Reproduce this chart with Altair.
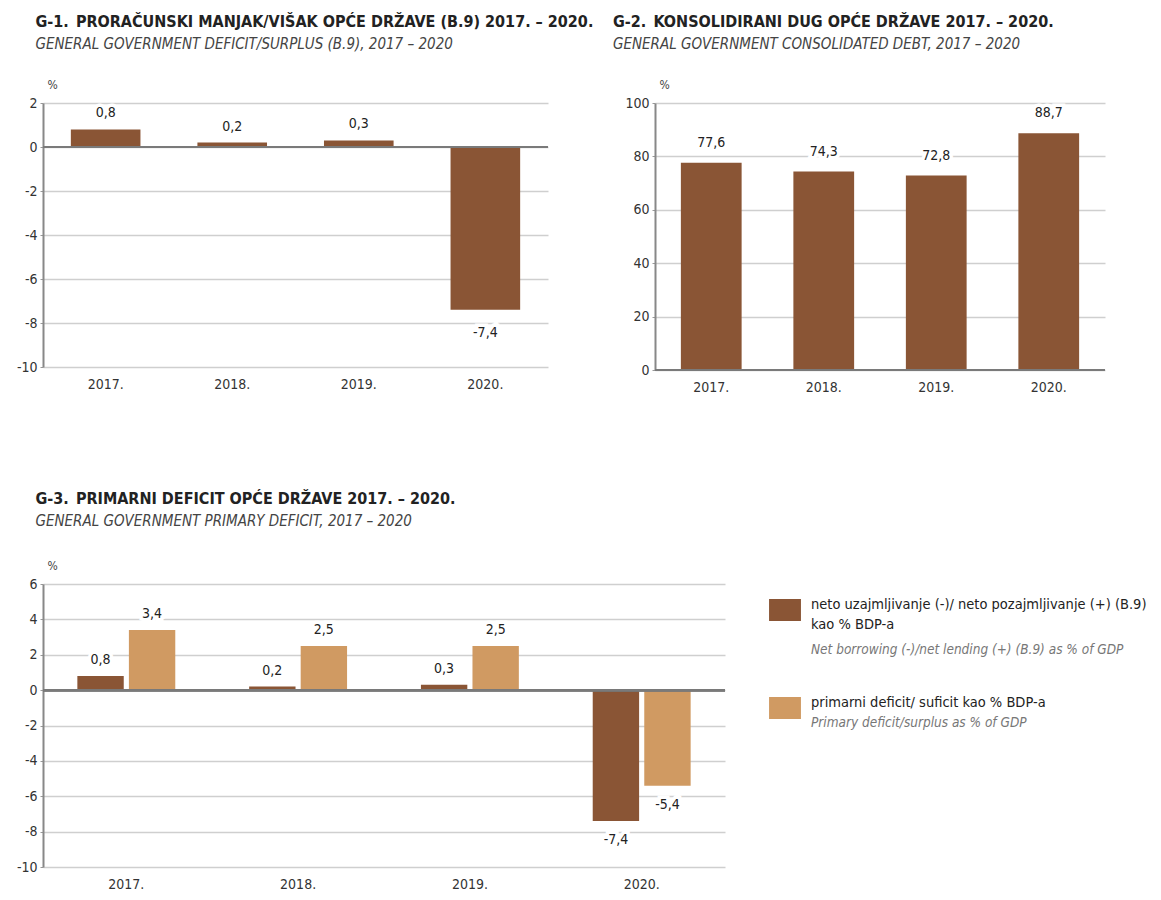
import altair as alt
import pandas as pd

# ---------------- data ----------------
years = ["2017.", "2018.", "2019.", "2020."]
deficit = [0.8, 0.2, 0.3, -7.4]          # G-1 and dark series of G-3
debt = [77.6, 74.3, 72.8, 88.7]          # G-2
primary = [3.4, 2.5, 2.5, -5.4]          # light series of G-3

series_key = ["B9", "primarni"]
series_hr = ["neto uzajmljivanje (-)/ neto pozajmljivanje (+) (B.9)\nkao % BDP-a",
             "primarni deficit/ suficit kao % BDP-a"]
series_en = ["Net borrowing (-)/net lending (+) (B.9) as % of GDP",
             "Primary deficit/surplus as % of GDP"]

t1 = "G-1.\u2002PRORAČUNSKI MANJAK/VIŠAK OPĆE DRŽAVE (B.9) 2017. – 2020."
s1 = "GENERAL GOVERNMENT DEFICIT/SURPLUS (B.9), 2017 – 2020"
t2 = "G-2.\u2002KONSOLIDIRANI DUG OPĆE DRŽAVE 2017. – 2020."
s2 = "GENERAL GOVERNMENT CONSOLIDATED DEBT, 2017 – 2020"
t3 = "G-3.\u2002PRIMARNI DEFICIT OPĆE DRŽAVE 2017. – 2020."
s3 = "GENERAL GOVERNMENT PRIMARY DEFICIT, 2017 – 2020"

DARK = "#8a5535"
LIGHT = "#d09a62"
colors = [DARK, LIGHT]
FONT = "Liberation Sans Narrow, DejaVu Sans Condensed, Roboto, sans-serif"
INDENT = "\u2003\u2003"
LABEL = "replace(toString(datum.v), '.', ',')"


def title(t, s, dx=19, offset=26):
    return alt.TitleParams(
        text=t, subtitle=INDENT + s, anchor="start", frame="bounds", dx=dx,
        font=FONT, fontSize=16, fontWeight="bold", color="#222",
        subtitleFont=FONT, subtitleFontSize=15, subtitleFontStyle="italic",
        subtitleColor="#444", subtitlePadding=7, offset=offset,
    )


def yaxis(vals):
    return alt.Axis(
        values=vals, tickCount=len(vals), title="%", titleAngle=0, titleX=4,
        titleY=-12, titleAlign="left", titleBaseline="bottom", titleFontSize=12,
        titleFontWeight="normal", titleColor="#444", titleFont=FONT,
        labelExpr="toString(datum.value)", labelFontSize=14, labelColor="#333",
        labelFont=FONT, labelPadding=3, labelOverlap=False,
        domainColor="#888", domainWidth=2, tickColor="#999", tickSize=3,
        grid=True, gridColor="#cfcfcf", gridWidth=1.5,
    )


xaxis = alt.Axis(title=None, domain=False, ticks=False, labelAngle=0,
                 labelPadding=10, labelFontSize=14, labelColor="#333",
                 labelFont=FONT, grid=False)


def value_labels(base, pos_dy=-8, neg_dy=10):
    layers = []
    for cond, baseline, dy in [("datum.v >= 0", "bottom", pos_dy),
                               ("datum.v < 0", "top", neg_dy)]:
        b = base.transform_filter(cond).transform_calculate(lab=LABEL)
        halo = b.mark_text(baseline=baseline, dy=dy, font=FONT, fontSize=14,
                           stroke="white", strokeWidth=7, color="white"
                           ).encode(text="lab:N")
        txt = b.mark_text(baseline=baseline, dy=dy, font=FONT, fontSize=14,
                          color="#222").encode(text="lab:N")
        layers += [halo, txt]
    return layers


# ---------------- G-1 ----------------
df1 = pd.DataFrame({"year": years, "v": deficit})
x1 = alt.X("year:N", sort=years, axis=xaxis,
           scale=alt.Scale(paddingInner=0.45, paddingOuter=0.22))
y1 = alt.Y("v:Q", scale=alt.Scale(domain=[-10, 2], nice=False),
           axis=yaxis(list(range(-10, 3, 2))))
base1 = alt.Chart(df1).encode(x=x1, y=y1)
g1 = alt.layer(
    base1.mark_bar(color=DARK),
    alt.Chart(df1).mark_rule(color="#7a7a7a", strokeWidth=2).encode(y=alt.datum(0)),
    *value_labels(base1, pos_dy=-9, neg_dy=16),
).properties(width=505, height=264, title=title(t1, s1))

# ---------------- G-2 ----------------
df2 = pd.DataFrame({"year": years, "v": debt})
x2 = alt.X("year:N", sort=years, axis=xaxis,
           scale=alt.Scale(paddingInner=0.46, paddingOuter=0.23))
y2 = alt.Y("v:Q", scale=alt.Scale(domain=[0, 100], nice=False),
           axis=yaxis(list(range(0, 101, 20))))
base2 = alt.Chart(df2).encode(x=x2, y=y2)
g2 = alt.layer(
    base2.mark_bar(color=DARK),
    alt.Chart(df2).mark_rule(color="#7a7a7a", strokeWidth=2).encode(y=alt.datum(0)),
    *value_labels(base2, pos_dy=-13),
).properties(width=450, height=267, title=title(t2, s2, dx=-12))

# ---------------- G-3 ----------------
df3 = pd.DataFrame({
    "year": years * 2,
    "series": [series_key[0]] * 4 + [series_key[1]] * 4,
    "v": deficit + primary,
})
x3 = alt.X("year:N", sort=years, axis=xaxis,
           scale=alt.Scale(paddingInner=0.43, paddingOuter=0.2))
y3 = alt.Y("v:Q", scale=alt.Scale(domain=[-10, 6], nice=False),
           axis=yaxis(list(range(-10, 7, 2))))
xo = alt.XOffset("series:N", sort=series_key, scale=alt.Scale(paddingInner=0.1))
base3 = alt.Chart(df3).encode(x=x3, y=y3, xOffset=xo)
g3 = alt.layer(
    base3.mark_bar().encode(
        color=alt.Color("series:N", legend=None,
                        scale=alt.Scale(domain=series_key, range=colors))),
    alt.Chart(df3).mark_rule(color="#7a7a7a", strokeWidth=2).encode(y=alt.datum(0)),
    *value_labels(base3, pos_dy=-9, neg_dy=12),
).properties(width=682, height=283, title=title(t3, s3, offset=30))

# ---------------- legend panel ----------------
dfl = pd.DataFrame({"key": series_key, "hr": series_hr, "en": series_en})
ly = alt.Y("key:N", sort=series_key, axis=None,
           scale=alt.Scale(type="point", range=[26, 124], padding=0))
lbase = alt.Chart(dfl).encode(y=ly)
sym = lbase.mark_point(shape="M-1.45,-1H1.45V1H-1.45Z", filled=True, size=484,
                       opacity=1, strokeWidth=0).encode(
    x=alt.value(16),
    color=alt.Color("key:N", legend=None,
                    scale=alt.Scale(domain=series_key, range=colors)))
hr = lbase.mark_text(align="left", baseline="top", dy=-12, font=FONT,
                     fontSize=14.5, color="#222", lineBreak="\n",
                     lineHeight=20).encode(x=alt.value(42), text="hr:N")
en1 = lbase.transform_filter(alt.datum.key == series_key[0]).mark_text(
    align="left", baseline="top", dy=33, font=FONT, fontSize=13.5,
    fontStyle="italic", color="#777").encode(x=alt.value(42), text="en:N")
en2 = lbase.transform_filter(alt.datum.key == series_key[1]).mark_text(
    align="left", baseline="top", dy=8, font=FONT, fontSize=13.5,
    fontStyle="italic", color="#777").encode(x=alt.value(42), text="en:N")
legend = alt.layer(sym, hr, en1, en2).properties(width=340, height=283)

top = alt.hconcat(g1, g2, spacing=18)
bottom = alt.hconcat(g3, legend, spacing=43)
chart = alt.vconcat(top, bottom, spacing=97).properties(
    padding={"left": 8, "top": 6, "right": 0, "bottom": 0},
    background="white",
).configure_view(strokeWidth=0)

chart.save("out.html", embed_options={"renderer": "svg", "actions": False})
